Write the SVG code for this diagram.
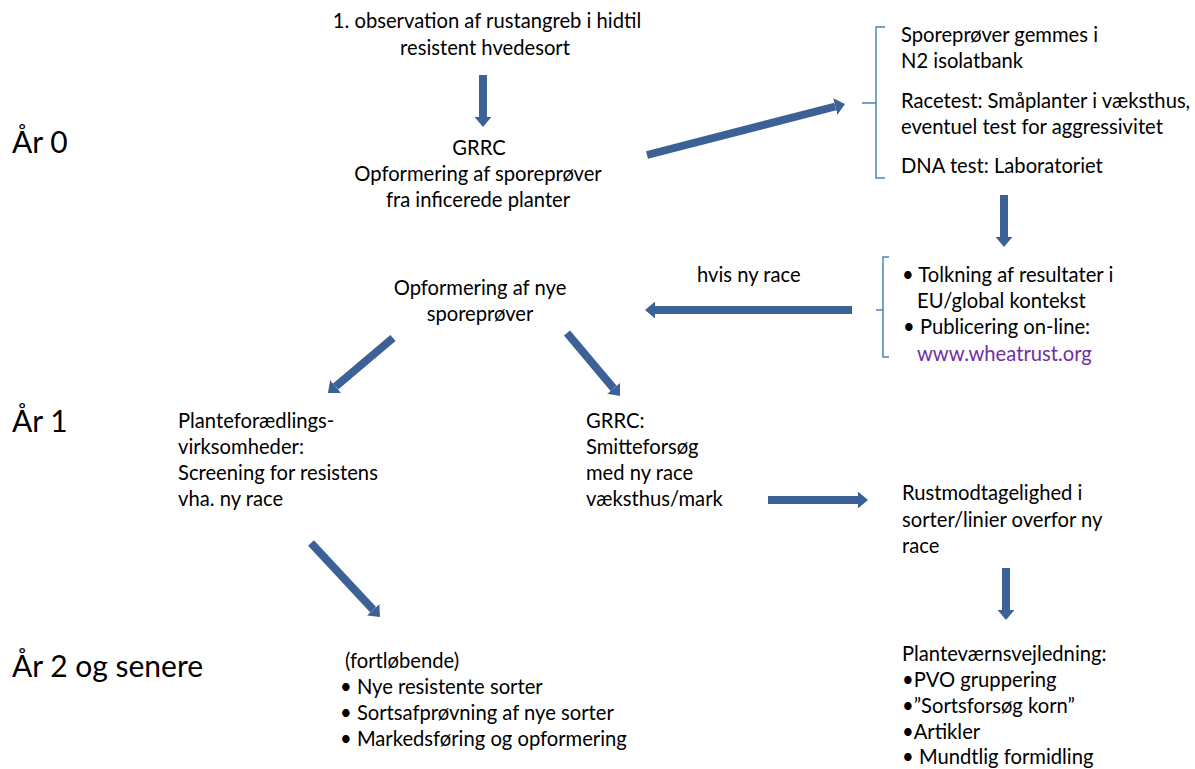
<svg xmlns="http://www.w3.org/2000/svg" width="1195" height="769" viewBox="0 0 1195 769">
<style>
text{font-family:Lato,"Liberation Sans",sans-serif;font-size:20.2px;fill:#000}
.yr{font-size:30px}
.c{text-anchor:middle}
.ar{stroke:#3c6196;stroke-width:8;fill:none}
.br{stroke:#4f81bd;stroke-width:1.5;fill:none}
.url{fill:#7030a0}
</style>
<defs>
<marker id="ah" viewBox="0 0 10 10" refX="0" refY="5" markerWidth="1.25" markerHeight="2.1" markerUnits="strokeWidth" preserveAspectRatio="none" orient="auto">
<path d="M0,0 L10,5 L0,10 z" fill="#3c6196"/>
</marker>
</defs>
<rect width="1195" height="769" fill="#fff"/>
<g id="year0"><text class="yr" x="12" y="153">År 0</text></g>
<g id="year1"><text class="yr" x="12" y="432">År 1</text></g>
<g id="year2"><text class="yr" x="12" y="677">År 2 og senere</text></g>
<g id="observation"><text class="c" x="487" y="28">1. observation af rustangreb i hidtil</text><text class="c" x="485" y="55">resistent hvedesort</text></g>
<g id="grrc1"><text class="c" x="479" y="155">GRRC</text><text class="c" x="478" y="181">Opformering af sporeprøver</text><text class="c" x="478" y="207">fra inficerede planter</text></g>
<g id="tests"><path class="br" d="M885,27 H876 V103 H862 M876,103 V178 H885"/>
<text x="901" y="42">Sporeprøver gemmes i</text><text x="901" y="68">N2 isolatbank</text><text x="901" y="108">Racetest: Småplanter i væksthus,</text><text x="901" y="134">eventuel test for aggressivitet</text><text x="901" y="173">DNA test: Laboratoriet</text></g>
<g id="tolkning"><path class="br" d="M889,257 H883 V310 H876 M883,310 V357 H889"/>
<text x="902" y="282">• Tolkning af resultater i</text><text x="917" y="308">EU/global kontekst</text><text x="903" y="334">•  Publicering on-line:</text><text class="url" x="917" y="361">www.wheatrust.org</text></g>
<g id="opformering"><text class="c" x="480" y="295">Opformering af nye</text><text class="c" x="480" y="321">sporeprøver</text></g>
<g id="planteforaedling"><text x="178" y="428">Planteforædlings-</text><text x="178" y="454">virksomheder:</text><text x="178" y="480">Screening for resistens</text><text x="178" y="506">vha.  ny race</text></g>
<g id="grrc2"><text x="586" y="428">GRRC:</text><text x="586" y="454">Smitteforsøg</text><text x="586" y="480">med ny race</text><text x="586" y="506">væksthus/mark</text></g>
<g id="rustmodtagelighed"><text x="902" y="500">Rustmodtagelighed i</text><text x="902" y="527">sorter/linier overfor ny</text><text x="902" y="553">race</text></g>
<g id="sorter"><text x="345" y="668">(fortløbende)</text><text x="340" y="694">• Nye resistente sorter</text><text x="340" y="720">• Sortsafprøvning af nye sorter</text><text x="340" y="746">• Markedsføring og opformering</text></g>
<g id="vejledning"><text x="902" y="661">Planteværnsvejledning:</text><text x="902" y="687">•PVO gruppering</text><text x="902" y="713">•”Sortsforsøg korn”</text><text x="902" y="739">•Artikler</text><text x="902" y="764">• Mundtlig formidling</text></g>
<g id="connectors">
<line class="ar" x1="483" y1="75" x2="483" y2="117" marker-end="url(#ah)"/>
<line class="ar" x1="647" y1="155" x2="835.3" y2="106.5" marker-end="url(#ah)"/>
<line class="ar" x1="1004" y1="195" x2="1004" y2="237" marker-end="url(#ah)"/>
<line class="ar" x1="852" y1="310" x2="655" y2="310" marker-end="url(#ah)"/>
<text x="697" y="282">hvis ny race</text>
<line class="ar" x1="393" y1="338" x2="335.6" y2="386.5" marker-end="url(#ah)"/>
<line class="ar" x1="567" y1="333" x2="613.6" y2="388.4" marker-end="url(#ah)"/>
<line class="ar" x1="768" y1="500" x2="858" y2="500" marker-end="url(#ah)"/>
<line class="ar" x1="1006" y1="568" x2="1006" y2="610" marker-end="url(#ah)"/>
<line class="ar" x1="311" y1="543" x2="373.2" y2="609.7" marker-end="url(#ah)"/>
</g>
</svg>
